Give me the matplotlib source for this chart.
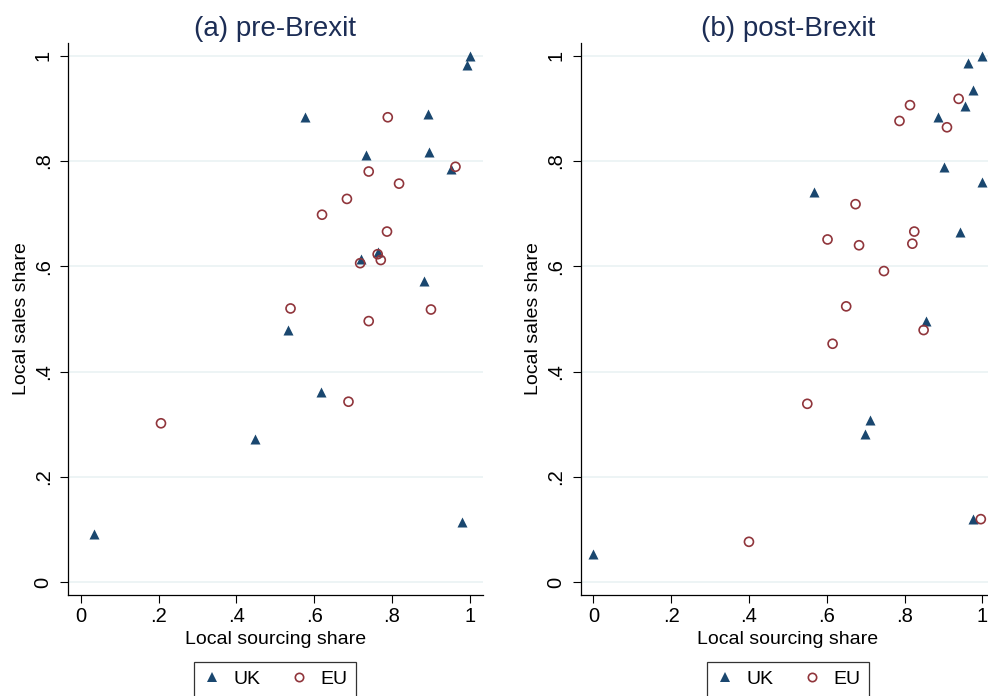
import matplotlib
matplotlib.use("Agg")
import matplotlib.pyplot as plt
from matplotlib.lines import Line2D

# values
pre_uk_x = [1.0, 0.993, 0.576, 0.893, 0.733, 0.895, 0.951, 0.765, 0.719, 0.883, 0.532, 0.618, 0.447, 0.035, 0.981]
pre_uk_y = [1.0, 0.982, 0.883, 0.890, 0.812, 0.817, 0.784, 0.627, 0.613, 0.573, 0.480, 0.361, 0.273, 0.091, 0.114]
pre_eu_x = [0.789, 0.963, 0.740, 0.818, 0.684, 0.620, 0.787, 0.763, 0.771, 0.718, 0.539, 0.900, 0.740, 0.206, 0.688]
pre_eu_y = [0.883, 0.789, 0.780, 0.757, 0.728, 0.698, 0.666, 0.623, 0.612, 0.606, 0.520, 0.518, 0.496, 0.302, 0.343]

post_uk_x = [1.0, 0.962, 0.975, 0.956, 0.887, 0.901, 0.999, 0.567, 0.943, 0.856, 0.710, 0.698, 0.976, 0.0]
post_uk_y = [1.0, 0.986, 0.935, 0.904, 0.884, 0.789, 0.761, 0.742, 0.665, 0.496, 0.308, 0.281, 0.120, 0.054]
post_eu_x = [0.939, 0.814, 0.787, 0.909, 0.674, 0.602, 0.825, 0.820, 0.683, 0.747, 0.650, 0.849, 0.615, 0.550, 0.400, 0.996]
post_eu_y = [0.918, 0.906, 0.876, 0.864, 0.718, 0.651, 0.666, 0.643, 0.640, 0.591, 0.524, 0.479, 0.453, 0.339, 0.077, 0.120]

ticks = [0, 0.2, 0.4, 0.6, 0.8, 1]
tick_labels = ["0", ".2", ".4", ".6", ".8", "1"]
titles = ["(a) pre-Brexit", "(b) post-Brexit"]

navy = "#1a476f"
maroon = "#90353b"

plt.rcParams["font.family"] = ["Liberation Sans", "DejaVu Sans"]

fig = plt.figure(figsize=(9.88, 6.96), dpi=100)
ax1 = fig.add_axes([68/988, 1-595/696, 414.7/988, 552/696])
ax2 = fig.add_axes([580.5/988, 1-595/696, 414.7/988, 552/696])

panels = [(ax1, pre_uk_x, pre_uk_y, pre_eu_x, pre_eu_y),
          (ax2, post_uk_x, post_uk_y, post_eu_x, post_eu_y)]

for i, (ax, ux, uy, ex, ey) in enumerate(panels):
    ax.scatter(ux, uy, marker="^", s=52, color=navy, linewidths=0, zorder=3)
    ax.scatter(ex, ey, marker="o", s=42, facecolors="none", edgecolors=maroon, linewidths=1.2, zorder=4)
    ax.set_xlim(-0.033, 1.033)
    ax.set_ylim(-0.024, 1.024)
    ax.set_xticks(ticks)
    ax.set_xticklabels(tick_labels)
    ax.set_yticks(ticks)
    ax.set_yticklabels(tick_labels, rotation=90, va="center")
    ax.tick_params(axis="both", labelsize=14.5, length=6, width=0.8, direction="out")
    ax.tick_params(axis="y", pad=5)
    ax.tick_params(axis="x", pad=3)
    ax.grid(axis="y", color="#eaf2f3", linewidth=1.2)
    ax.set_axisbelow(True)
    for s in ["top", "right"]:
        ax.spines[s].set_visible(False)
    for s in ["left", "bottom"]:
        ax.spines[s].set_linewidth(0.9)
    ax.set_xlabel("Local sourcing share", fontsize=14, labelpad=3)
    ax.set_ylabel("Local sales share", fontsize=14, labelpad=3)
    ax.set_title(titles[i], fontsize=20, color="#1c2d55", pad=5)

    handles = [Line2D([], [], marker="^", linestyle="none", color=navy, markersize=7, markeredgewidth=0),
               Line2D([], [], marker="o", linestyle="none", markerfacecolor="none",
                      markeredgecolor=maroon, markersize=6, markeredgewidth=1.2)]
    # place the legend box under the x axis title
    x_center = 275 if i == 0 else 788
    ax_left = 68 if i == 0 else 580.5
    leg = ax.legend(handles, ["UK", "EU"], loc="upper center", ncol=2,
                    bbox_to_anchor=((x_center - ax_left)/414.7, -0.121),
                    fontsize=14, frameon=True, fancybox=False, handlelength=1.0,
                    handletextpad=0.6, columnspacing=1.5, borderpad=0.45, borderaxespad=0)
    leg.get_frame().set_edgecolor("black")
    leg.get_frame().set_linewidth(0.9)

fig.savefig("out.png", dpi=100)
